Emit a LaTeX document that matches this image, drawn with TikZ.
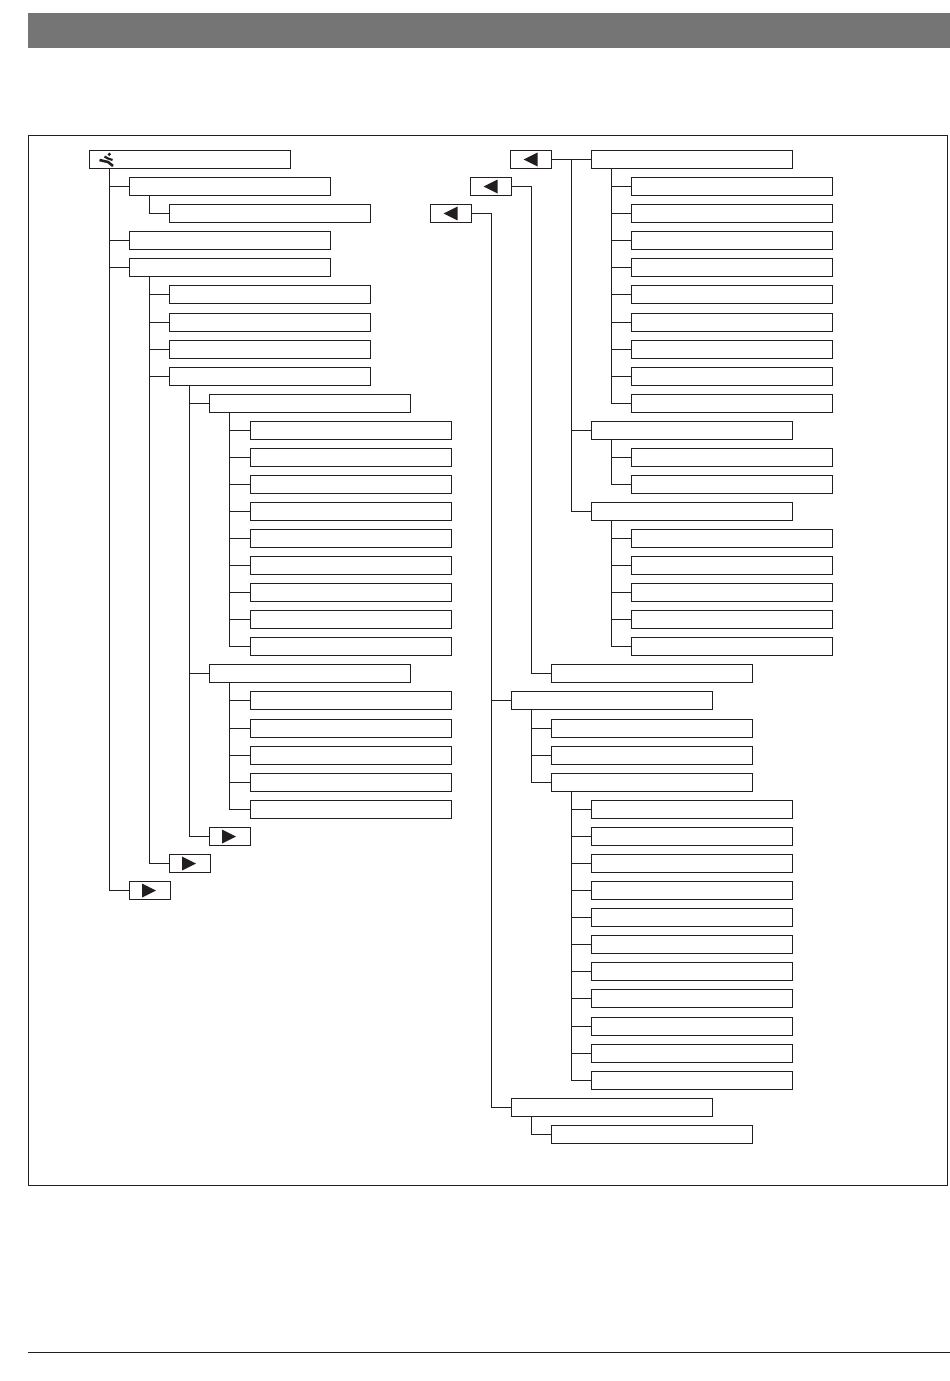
\documentclass[tikz,border=0pt]{standalone}
\usepackage{tikz}
\usetikzlibrary{positioning}
\definecolor{linegray}{HTML}{231F20}
\definecolor{bargray}{HTML}{757575}
\tikzset{
    menubox/.style={draw=linegray, line width=1pt, fill=white, rectangle, inner sep=0pt, outer sep=0pt, minimum width=201pt, minimum height=18pt},
    nextbox/.style={menubox, minimum width=41pt, path picture={
        \fill[linegray] ([xshift=-8pt, yshift=7pt]path picture bounding box.center) -- ++(14pt, -7pt) -- ++(-14pt, -7pt) -- cycle;}},
    backbox/.style={menubox, minimum width=41pt, path picture={
        \fill[linegray] ([xshift=6.5pt, yshift=7pt]path picture bounding box.center) -- ++(-14pt, -7pt) -- ++(14pt, -7pt) -- cycle;}},
    branch/.style={draw=linegray, line width=1pt}
}
\begin{document}
\begin{tikzpicture}[x=1pt, y=-1pt]
    \useasboundingbox (0, 0) rectangle (950, 1381);
    \fill[bargray] (28, 13) rectangle (950, 48);
    \draw[linegray, line width=1pt] (28.5, 135.5) rectangle (947.5, 1185.5);
    \draw[linegray, line width=1pt] (28, 1352.5) -- (950, 1352.5);

    % left tree
    \node[menubox] (root) at (190, 159.5) {};
    \begin{scope}[shift={(190, 159.5)}]
        \fill[linegray] (-80.7, -5.2) circle (1.8);
        \draw[linegray, line width=2.6pt] (-90.5, 0.5) -- (-82, 2.5) -- (-77, 6.5);
        \draw[linegray, line width=2.2pt] (-85.5, -3) -- (-82, -1) -- (-77.5, 0.5);
    \end{scope}
    \node[menubox] (a1) at (230, 186.5) {};
    \node[menubox] (a2) at (270, 213.5) {};
    \node[menubox] (a3) at (230, 240.5) {};
    \node[menubox] (a4) at (230, 267.5) {};
    \foreach \i/\y in {1/294.5, 2/322.5, 3/349.5, 4/376.5} {
        \node[menubox] (b\i) at (270, \y) {};
        \draw[branch] ([xshift=20pt]a4.south west) |- (b\i.west);
    }
    \node[menubox] (c1) at (310, 403.5) {};
    \foreach \i/\y in {1/430.5, 2/457.5, 3/484.5, 4/511.5, 5/538.5, 6/565.5, 7/592.5, 8/619.5, 9/646.5} {
        \node[menubox] (d\i) at (351, \y) {};
        \draw[branch] ([xshift=20pt]c1.south west) |- (d\i.west);
    }
    \node[menubox] (c2) at (310, 673.5) {};
    \foreach \i/\y in {1/700.5, 2/728.5, 3/755.5, 4/782.5, 5/809.5} {
        \node[menubox] (e\i) at (351, \y) {};
        \draw[branch] ([xshift=20pt]c2.south west) |- (e\i.west);
    }
    \node[nextbox] (nextc) at (230, 836.5) {};
    \node[nextbox] (nextb) at (190, 863.5) {};
    \node[nextbox] (nexta) at (150, 890.5) {};
    \draw[branch] ([xshift=20pt]root.south west) |- (a1.west);
    \draw[branch] ([xshift=20pt]root.south west) |- (a3.west);
    \draw[branch] ([xshift=20pt]root.south west) |- (a4.west);
    \draw[branch] ([xshift=20pt]root.south west) |- (nexta.west);
    \draw[branch] ([xshift=20pt]a1.south west) |- (a2.west);
    \draw[branch] ([xshift=20pt]a4.south west) |- (nextb.west);
    \draw[branch] ([xshift=20pt]b4.south west) |- (c1.west);
    \draw[branch] ([xshift=20pt]b4.south west) |- (c2.west);
    \draw[branch] ([xshift=20pt]b4.south west) |- (nextc.west);

    % right tree
    \node[backbox] (backa) at (531, 159.5) {};
    \node[backbox] (backb) at (491, 186.5) {};
    \node[backbox] (backc) at (451, 213.5) {};
    \node[menubox] (f1) at (692, 159.5) {};
    \foreach \i/\y in {1/186.5, 2/213.5, 3/240.5, 4/267.5, 5/294.5, 6/322.5, 7/349.5, 8/376.5, 9/403.5} {
        \node[menubox] (g\i) at (732, \y) {};
        \draw[branch] ([xshift=20pt]f1.south west) |- (g\i.west);
    }
    \node[menubox] (f2) at (692, 430.5) {};
    \foreach \i/\y in {1/457.5, 2/484.5} {
        \node[menubox] (h\i) at (732, \y) {};
        \draw[branch] ([xshift=20pt]f2.south west) |- (h\i.west);
    }
    \node[menubox] (f3) at (692, 511.5) {};
    \foreach \i/\y in {1/538.5, 2/565.5, 3/592.5, 4/619.5, 5/646.5} {
        \node[menubox] (j\i) at (732, \y) {};
        \draw[branch] ([xshift=20pt]f3.south west) |- (j\i.west);
    }
    \draw[branch] (backa.east) -- (f1.west);
    \coordinate (trunkf) at ([xshift=-20pt]f1.west);
    \draw[branch] (trunkf) |- (f2.west);
    \draw[branch] (trunkf) |- (f3.west);
    \node[menubox] (k1) at (652, 673.5) {};
    \draw[branch] (backb.east) -| ([xshift=-20pt]k1.west) -- (k1.west);
    \node[menubox] (m1) at (612, 700.5) {};
    \foreach \i/\y in {1/728.5, 2/755.5, 3/782.5} {
        \node[menubox] (n\i) at (652, \y) {};
        \draw[branch] ([xshift=20pt]m1.south west) |- (n\i.west);
    }
    \foreach \i/\y in {1/809.5, 2/836.5, 3/863.5, 4/890.5, 5/917.5, 6/944.5, 7/971.5, 8/998.5, 9/1026.5, 10/1053.5, 11/1080.5} {
        \node[menubox] (p\i) at (692, \y) {};
        \draw[branch] ([xshift=20pt]n3.south west) |- (p\i.west);
    }
    \node[menubox] (m2) at (612, 1107.5) {};
    \node[menubox] (q1) at (652, 1134.5) {};
    \draw[branch] (backc.east) -| ([xshift=-20pt]m2.west) -- (m2.west);
    \draw[branch] ([xshift=-20pt]m1.west) -- (m1.west);
    \draw[branch] ([xshift=20pt]m2.south west) |- (q1.west);
\end{tikzpicture}
\end{document}
